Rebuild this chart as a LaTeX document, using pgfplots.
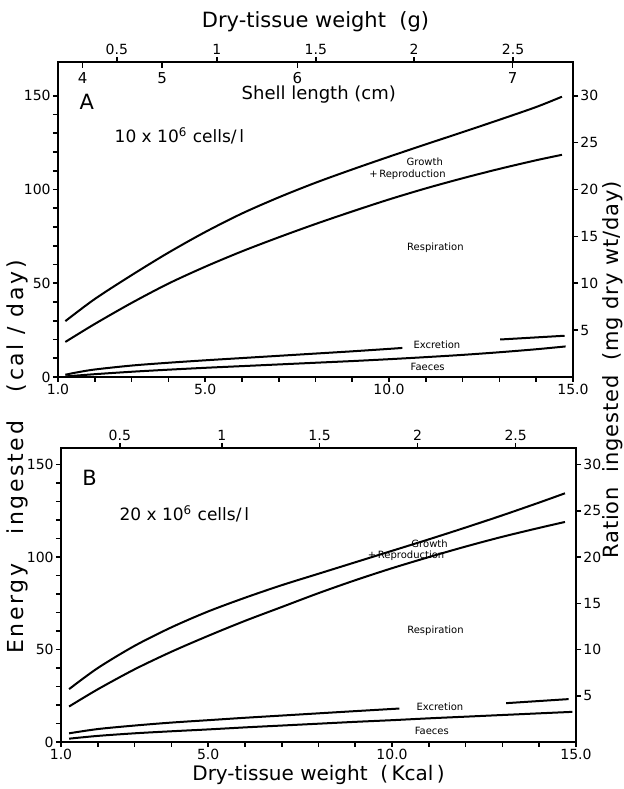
\documentclass[border=0pt]{standalone}
\usepackage{pgfplots}
\pgfplotsset{compat=1.18}
\usepackage{fontspec}
\setmainfont{DejaVu Sans}

\pgfplotsset{
  panel/.style={
    scale only axis, width=257.5pt, xmin=1, xmax=15, ymin=0,
    anchor=south west, clip=false,
    axis line style={line width=1.2pt},
    tick style={line width=0.8pt, black},
    tick align=outside, major tick length=2.5pt,
    ticklabel style={font=\fontsize{7}{8}\selectfont, inner sep=1pt},
    /pgf/number format/assume math mode=true,
  },
  curve/.style={black, line width=1pt, no marks, smooth},
}
\tikzset{lbl/.style={font=\fontsize{5}{6}\selectfont}}

\begin{document}
\begin{tikzpicture}[x=1pt,y=1pt]
\useasboundingbox (0,0) rectangle (312,394.5);

% ---------------- panel A ----------------
\begin{axis}[panel, at={(29pt,206pt)}, height=157.5pt, ymax=168,
  xtick={1,...,15}, xticklabels={1.0,,,,5.0,,,,,10.0,,,,,15.0},
  ytick={0,10,...,150}, yticklabels={0,,,,,50,,,,,100,,,,,150},
  xtick pos=bottom, ytick pos=left]
\addplot[curve] coordinates {(1.2,29.8) (2,41.6) (3,54.3) (4,66.3) (5,77.3) (6,87.2) (7,95.8) (8,103.6) (9,110.7) (10,117.5) (11,124.1) (12,130.6) (13,137.2) (14,144) (14.7,149.5)};
\addplot[curve] coordinates {(1.2,18.7) (2,28.3) (3,39.5) (4,49.8) (5,58.8) (6,67) (7,74.5) (8,81.6) (9,88.3) (10,94.7) (11,100.6) (12,106) (13,111) (14,115.6) (14.7,118.5)};
\addplot[curve] coordinates {(1.2,1.2) (1.5,2.4) (2,4) (3,6.1) (4,7.6) (5,8.9) (6,10.1) (7,11.3) (8,12.5) (9,13.7) (10,15) (10.36,15.5)};
\addplot[curve] coordinates {(13.02,20) (14.77,22)};
\addplot[curve] coordinates {(1.2,0.3) (2,1.5) (3,2.8) (4,3.9) (5,4.9) (6,5.8) (7,6.7) (8,7.6) (9,8.5) (10,9.5) (11,10.6) (12,11.8) (13,13.2) (14,14.8) (14.8,16.3)};
\node[lbl] at (axis cs:10.97,115) {Growth};
\node[lbl] at (axis cs:10.5,107.7) {+\,Reproduction};
\node[lbl] at (axis cs:11.26,69) {Respiration};
\node[lbl] at (axis cs:11.3,17.3) {Excretion};
\node[lbl] at (axis cs:11.05,5.4) {Faeces};
\node[font=\fontsize{10.5}{12}\selectfont] at (axis cs:1.78,147) {A};
\node[font=\fontsize{8.5}{10}\selectfont, anchor=west] at (axis cs:2.35,128.6) {10 x 10\textsuperscript{6} cells/\,l};
\node[font=\fontsize{9}{10}\selectfont] at (axis cs:8.09,150.4) {Shell length (cm)};
\end{axis}

\begin{axis}[panel, at={(29pt,206pt)}, height=157.5pt, ymax=168,
  axis x line*=top, axis y line*=right,
  xtick={2.60,5.32,8.01,10.68,13.37}, xticklabels={0.5,1,1.5,2,2.5},
  ytick={25,50,...,150}, yticklabels={5,10,15,20,25,30},
  xlabel={Dry-tissue weight\ \ (g)},
  xlabel style={font=\fontsize{10.5}{12}\selectfont, at={(axis description cs:0.5,1)}, anchor=center, yshift=20pt}]
\end{axis}

\begin{axis}[panel, at={(29pt,206pt)}, height=157.5pt, ymax=168,
  axis x line*=top, axis y line=none,
  xtick={1.67,3.83,7.51,13.36}, xticklabels={4,5,6,7},
  tick align=inside, major tick length=3pt,
  xticklabel style={font=\fontsize{7.5}{8}\selectfont, anchor=north, yshift=-4pt}]
\end{axis}

% ---------------- panel B ----------------
\begin{axis}[panel, at={(30.5pt,23.5pt)}, height=147pt, ymax=159,
  xtick={1,...,15}, xticklabels={1.0,,,,5.0,,,,,10.0,,,,,15.0},
  ytick={0,10,...,150}, yticklabels={0,,,,,50,,,,,100,,,,,150},
  xtick pos=bottom, ytick pos=left,
  xlabel={Dry-tissue weight\ \ (\,Kcal\,)},
  xlabel style={font=\fontsize{10}{11}\selectfont, at={(axis description cs:0.5,0)}, anchor=center, yshift=-16.5pt}]
\addplot[curve] coordinates {(1.22,28.6) (2,40) (3,52) (4,62) (5,70.6) (6,78) (7,84.8) (8,91) (9,97.2) (10,103.4) (11,109.6) (12,116) (13,122.6) (14,129.5) (14.7,134.5)};
\addplot[curve] coordinates {(1.22,19.2) (2,28.5) (3,39.3) (4,48.8) (5,57.4) (6,65.5) (7,73) (8,80.5) (9,87.5) (10,94) (11,100) (12,105.7) (13,111) (14,115.8) (14.7,119)};
\addplot[curve] coordinates {(1.22,4.7) (2,7) (3,8.9) (4,10.5) (5,11.8) (6,13.1) (7,14.3) (8,15.5) (9,16.7) (10.2,18.1)};
\addplot[curve] coordinates {(13.1,21) (14.8,23.2)};
\addplot[curve] coordinates {(1.22,1.8) (2,3.3) (3,4.7) (4,5.8) (5,6.8) (6,7.9) (7,8.9) (8,9.9) (9,10.9) (10,11.8) (11,12.8) (12,13.7) (13,14.6) (14,15.5) (14.9,16.3)};
\node[lbl] at (axis cs:11.02,107.4) {Growth};
\node[lbl] at (axis cs:10.38,100.7) {+\,Reproduction};
\node[lbl] at (axis cs:11.18,60) {Respiration};
\node[lbl] at (axis cs:11.3,19) {Excretion};
\node[lbl] at (axis cs:11.08,6) {Faeces};
\node[font=\fontsize{10.5}{12}\selectfont] at (axis cs:1.78,142.8) {B};
\node[font=\fontsize{8.5}{10}\selectfont, anchor=west] at (axis cs:2.4,123.4) {20 x 10\textsuperscript{6} cells/\,l};
\end{axis}

\begin{axis}[panel, at={(30.5pt,23.5pt)}, height=147pt, ymax=159,
  axis x line*=top, axis y line*=right,
  xtick={2.60,5.37,8.03,10.69,13.36}, xticklabels={0.5,1,1.5,2,2.5},
  ytick={25,50,...,150}, yticklabels={5,10,15,20,25,30}]
\end{axis}

% shared axis titles
\node[rotate=90, font=\fontsize{11}{12}\selectfont\addfontfeature{LetterSpace=12}] at (8.5,166) {Energy\ \ \ ingested\ \ \ (cal / day)};
\node[rotate=90, font=\fontsize{10.5}{12}\selectfont\addfontfeature{LetterSpace=4}] at (306.5,209.5) {Ration\ \ ingested\ \ (mg\ dry\ wt/day)};
\end{tikzpicture}
\end{document}
